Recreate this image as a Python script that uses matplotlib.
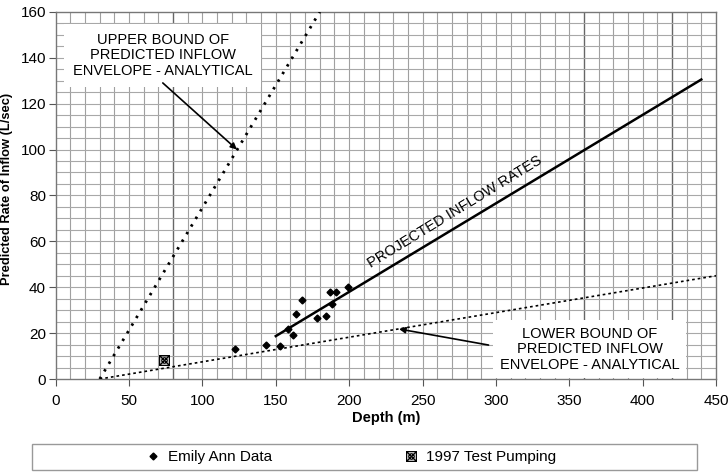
import numpy as np
import matplotlib
matplotlib.use('Agg')
import matplotlib.pyplot as plt
from matplotlib.path import Path
from matplotlib.patches import Rectangle

plt.rcParams['font.family'] = ['Liberation Sans', 'DejaVu Sans']

# values
emily_depth = [122, 143, 153, 158, 162, 164, 168, 178, 184, 187, 188, 191, 199]
emily_rate = [13.2, 14.9, 14.6, 21.7, 19.3, 28.3, 34.6, 26.5, 27.4, 38.1, 32.8, 38.1, 40.1]
test_depth = [73.5]
test_rate = [8.2]
projected_depth = [150, 440]
projected_rate = [18.7, 130.5]
upper_depth = [30, 180]
upper_rate = [0, 160]
lower_depth = [30, 450]
lower_rate = [0, 45]

x_ticks = [0, 50, 100, 150, 200, 250, 300, 350, 400, 450]
y_ticks = [0, 20, 40, 60, 80, 100, 120, 140, 160]


def boxed_x_marker():
    """square with diagonals and a small circle, like the Excel marker"""
    sq = Path.unit_rectangle().transformed(
        matplotlib.transforms.Affine2D().translate(-0.5, -0.5))
    d1 = Path([(-0.5, -0.5), (0.5, 0.5)], [Path.MOVETO, Path.LINETO])
    d2 = Path([(-0.5, 0.5), (0.5, -0.5)], [Path.MOVETO, Path.LINETO])
    circ = Path.unit_circle().transformed(matplotlib.transforms.Affine2D().scale(0.28))
    return Path.make_compound_path(sq, d1, d2, circ)


fig = plt.figure(figsize=(7.28, 4.72), dpi=100)
ax = fig.add_axes([0.0765, 0.197, 0.907, 0.778])

ax.set_xlim(0, 450)
ax.set_ylim(0, 160)

# graph-paper grid
for gx in range(10, 450, 10):
    dark = gx in (80, 360, 420)
    ax.axvline(gx, color='#666666' if dark else '#a0a0a0',
               lw=1.0 if dark else 0.8, zorder=0)
for gy in range(5, 160, 5):
    ax.axhline(gy, color='#a8a8a8', lw=0.8, zorder=0)

ax.plot(upper_depth, upper_rate, color='black', lw=2.0,
        linestyle=(0, (0.9, 2.3)), zorder=3)
ax.plot(lower_depth, lower_rate, color='black', lw=1.2,
        linestyle=(0, (1.6, 1.8)), zorder=3)
ax.plot(projected_depth, projected_rate, color='black', lw=1.8, zorder=3)

ax.plot(emily_depth, emily_rate, linestyle='none', marker='D', ms=3.5,
        color='black', label='Emily Ann Data', zorder=4)
ax.plot(test_depth, test_rate, linestyle='none', marker=boxed_x_marker(), ms=7,
        mfc='none', mec='black', mew=0.9, label='1997 Test Pumping', zorder=4)

txt_kw = dict(fontsize=10.5, ha='center', va='center', linespacing=1.15, zorder=5)
ax.text(73, 141, 'UPPER BOUND OF\nPREDICTED INFLOW\nENVELOPE - ANALYTICAL',
        bbox=dict(boxstyle='square,pad=0.6', fc='white', ec='none'), **txt_kw)
ax.text(364, 13, 'LOWER BOUND OF\nPREDICTED INFLOW\nENVELOPE - ANALYTICAL',
        bbox=dict(boxstyle='square,pad=0.45', fc='white', ec='none'), **txt_kw)
ax.text(272, 73, 'PROJECTED INFLOW RATES', fontsize=10.5, rotation=31.5,
        ha='center', va='center', rotation_mode='anchor', zorder=5)

ax.annotate('', xy=(123.5, 100), xytext=(73, 129),
            arrowprops=dict(arrowstyle='-|>', color='black', lw=1.2,
                            mutation_scale=9, shrinkA=0, shrinkB=0), zorder=6)
ax.annotate('', xy=(234, 21.8), xytext=(295, 14.8),
            arrowprops=dict(arrowstyle='-|>', color='black', lw=1.2,
                            mutation_scale=9, shrinkA=0, shrinkB=0), zorder=6)

ax.set_xticks(x_ticks)
ax.set_yticks(y_ticks)
ax.tick_params(direction='out', length=5, width=0.8, color='#555555',
               labelsize=11)
ax.tick_params(axis='y', pad=2)
ax.tick_params(axis='x', pad=6)
for s in ax.spines.values():
    s.set_color('#777777')
    s.set_linewidth(1.0)

ax.set_xlabel('Depth (m)', fontsize=10.5, fontweight='bold', labelpad=2)
ax.set_ylabel('Predicted Rate of Inflow (L/sec)', fontsize=9.3,
              fontweight='bold')
ax.yaxis.set_label_coords(-0.064, 0.518)

# legend frame below the plot
fig.patches.append(Rectangle((32 / 728, 1 - 470 / 472), 665 / 728, 26 / 472,
                             transform=fig.transFigure, fc='white',
                             ec='#999999', lw=1.0))
fig.legend(loc='center', bbox_to_anchor=(350 / 728, 1 - 457 / 472), ncol=2,
           frameon=False, fontsize=11, columnspacing=8.5, handletextpad=0.4,
           handlelength=1.2)

fig.savefig('out.png', dpi=100)
